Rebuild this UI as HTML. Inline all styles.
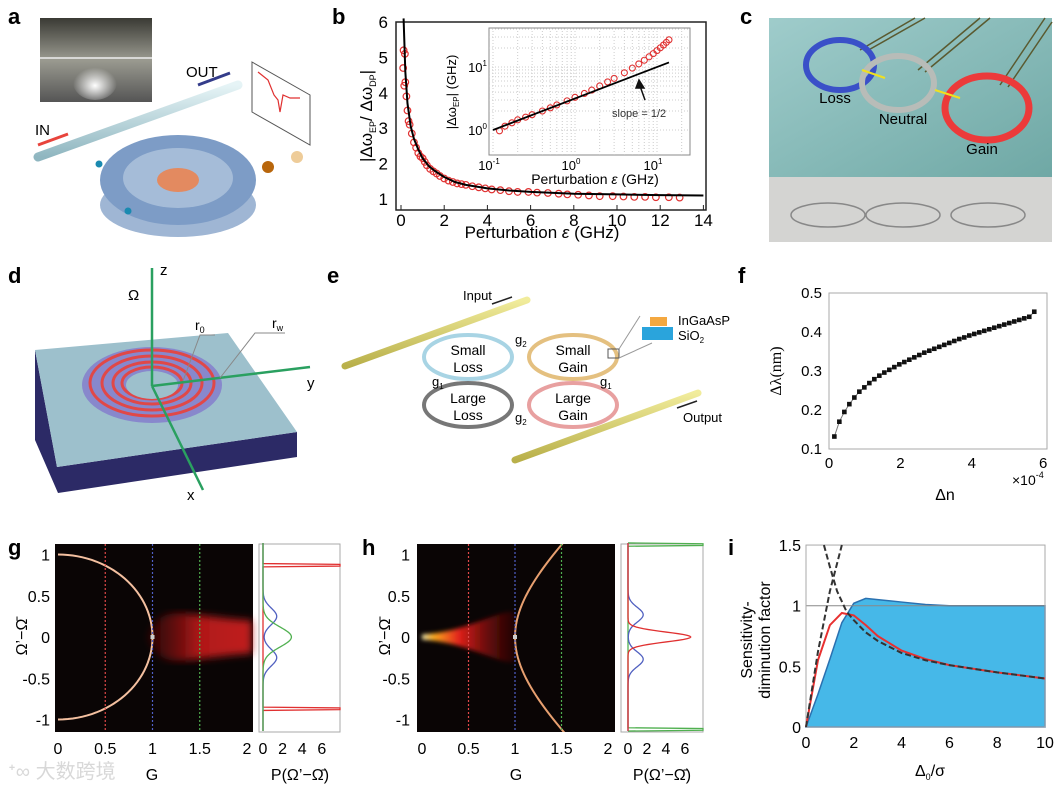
<!DOCTYPE html>
<html><head><meta charset="utf-8">
<style>
html,body{margin:0;padding:0;background:#fff;}
svg{display:block;font-family:"Liberation Sans","Noto Sans CJK SC",sans-serif;}
.pl{font-weight:bold;font-size:22px;fill:#000;}
.tk{font-size:15px;fill:#111;}
</style></head>
<body>
<svg id="fig" width="1064" height="785" viewBox="0 0 1064 785" xmlns="http://www.w3.org/2000/svg">
<defs>
<linearGradient id="rodg" x1="0" y1="0" x2="0" y2="1"><stop offset="0" stop-color="#e6f4f6"/><stop offset="1" stop-color="#8fb6c0"/></linearGradient>
<linearGradient id="yrod" x1="0" y1="0" x2="0" y2="1"><stop offset="0" stop-color="#f1ec9c"/><stop offset="1" stop-color="#b9b04a"/></linearGradient>
<linearGradient id="photo" x1="0" y1="0" x2="0" y2="1"><stop offset="0" stop-color="#3a3a34"/><stop offset="0.5" stop-color="#9a9a90"/><stop offset="1" stop-color="#555"/></linearGradient>
<radialGradient id="glowA" cx="0.5" cy="0.6" r="0.5"><stop offset="0" stop-color="#fff"/><stop offset="1" stop-color="#fff" stop-opacity="0"/></radialGradient>
<linearGradient id="teal" x1="0" y1="0" x2="1" y2="1"><stop offset="0" stop-color="#9fcccb"/><stop offset="1" stop-color="#6fa8a5"/></linearGradient>
<filter id="blur4"><feGaussianBlur stdDeviation="4"/></filter>
<filter id="blur2"><feGaussianBlur stdDeviation="2"/></filter>
<linearGradient id="hglow" x1="0" y1="0" x2="1" y2="0"><stop offset="0" stop-color="#fff8c0"/><stop offset="0.12" stop-color="#ffb020"/><stop offset="0.4" stop-color="#e0201a"/><stop offset="1" stop-color="#5a0606" stop-opacity="0.3"/></linearGradient>
<linearGradient id="gglow" x1="0" y1="0" x2="1" y2="0"><stop offset="0" stop-color="#5a0808" stop-opacity="0.4"/><stop offset="0.5" stop-color="#b01818"/><stop offset="1" stop-color="#c02020"/></linearGradient>
</defs>

<!-- Panel a -->
<g>
<text class="pl" x="8" y="24">a</text>
<rect x="40" y="18" width="112" height="84" fill="url(#photo)"/>
<ellipse cx="95" cy="82" rx="22" ry="18" fill="url(#glowA)"/>
<line x1="40" y1="58" x2="152" y2="58" stroke="#eee" stroke-width="1.5"/>
<ellipse cx="178" cy="205" rx="78" ry="32" fill="#9fb6d4"/>
<ellipse cx="178" cy="180" rx="78" ry="45" fill="#7d9cc6"/>
<ellipse cx="178" cy="178" rx="55" ry="30" fill="#a5bcd8"/>
<ellipse cx="178" cy="180" rx="21" ry="12" fill="#e38a60"/>
<line x1="38" y1="157" x2="238" y2="85" stroke="url(#rodg)" stroke-width="9" stroke-linecap="round"/>
<line x1="38" y1="145" x2="68" y2="134" stroke="#e8443c" stroke-width="3"/>
<text x="35" y="135" font-size="15">IN</text>
<line x1="198" y1="85" x2="230" y2="73" stroke="#343c8a" stroke-width="3"/>
<text x="186" y="77" font-size="15">OUT</text>
<polygon points="252,62 310,95 310,145 252,112" fill="#fff" stroke="#555"/>
<polyline points="258,72 268,80 274,95 278,100 280,112 283,95 290,98 300,98" fill="none" stroke="#e03030" stroke-width="1.2"/>
<circle cx="268" cy="167" r="6" fill="#b8660c"/>
<circle cx="297" cy="157" r="6" fill="#eecc99"/>
<circle cx="99" cy="164" r="3.5" fill="#1a8ab0"/>
<circle cx="128" cy="211" r="3.5" fill="#1a8ab0"/>
</g>

<!-- Panel b -->
<g id="pb">
<text class="pl" x="332" y="24">b</text>
<rect x="396" y="22" width="310" height="188" fill="none" stroke="#222" stroke-width="1.5"/>
<text x="542" y="238" font-size="17" text-anchor="middle">Perturbation <tspan font-style="italic">ε</tspan> (GHz)</text>
<text transform="translate(372,116) rotate(-90)" font-size="17" text-anchor="middle">|Δω<tspan font-size="9" dy="4">EP</tspan><tspan dy="-4">/ Δω</tspan><tspan font-size="9" dy="4">DP</tspan><tspan dy="-4">|</tspan></text>
</g>

<!-- Panel c -->
<g>
<text class="pl" x="740" y="24">c</text>
<rect x="769" y="18" width="283" height="159" fill="url(#teal)"/>
<rect x="769" y="177" width="283" height="65" fill="#d4d4d2"/>
<g stroke="#5a5a30" stroke-width="1.5">
<line x1="860" y1="50" x2="915" y2="18"/><line x1="865" y1="52" x2="925" y2="18"/>
<line x1="918" y1="70" x2="980" y2="18"/><line x1="925" y1="72" x2="990" y2="18"/>
<line x1="1000" y1="85" x2="1045" y2="18"/><line x1="1008" y1="87" x2="1052" y2="22"/>
</g>
<ellipse cx="840" cy="65" rx="34" ry="25" fill="none" stroke="#3a50c8" stroke-width="6"/>
<ellipse cx="898" cy="83" rx="36" ry="27" fill="none" stroke="#b8bcb8" stroke-width="6"/>
<ellipse cx="987" cy="108" rx="42" ry="32" fill="none" stroke="#ec3a3a" stroke-width="7"/>
<path d="M862 70 L885 78 M935 90 L960 98" stroke="#f0e020" stroke-width="2"/>
<text x="835" y="103" font-size="15" text-anchor="middle">Loss</text>
<text x="903" y="124" font-size="15" text-anchor="middle">Neutral</text>
<text x="982" y="154" font-size="15" text-anchor="middle">Gain</text>
<g fill="none" stroke="#888" stroke-width="1.5">
<ellipse cx="828" cy="215" rx="37" ry="12"/><ellipse cx="903" cy="215" rx="37" ry="12"/><ellipse cx="988" cy="215" rx="37" ry="12"/>
</g>
</g>

<!-- Panel d -->
<g>
<text class="pl" x="8" y="283">d</text>
<polygon points="35,350 35,440 58,493 297,457 297,432 57,467" fill="#2c2a66"/>
<polygon points="35,350 228,333 297,432 57,467" fill="#9dc0cc"/>
<ellipse cx="152" cy="385" rx="70" ry="38" fill="#8888cc"/>
<g fill="none" stroke="#e04848" stroke-width="3">
<ellipse cx="152" cy="383" rx="62" ry="33"/><ellipse cx="152" cy="383" rx="50" ry="27"/><ellipse cx="152" cy="383" rx="39" ry="21"/><ellipse cx="152" cy="383" rx="30" ry="16"/>
</g>
<ellipse cx="152" cy="385" rx="26" ry="14" fill="#9dc0cc"/>
<g stroke="#2aa060" stroke-width="2.5">
<line x1="152" y1="386" x2="152" y2="268"/><line x1="152" y1="386" x2="310" y2="367"/><line x1="152" y1="386" x2="203" y2="490"/>
</g>
<text x="160" y="275" font-size="15">z</text>
<text x="307" y="388" font-size="15">y</text>
<text x="187" y="500" font-size="15">x</text>
<text x="128" y="300" font-size="15">Ω</text>
<text x="195" y="330" font-size="14">r<tspan font-size="9" dy="3">0</tspan></text>
<text x="272" y="328" font-size="14">r<tspan font-size="9" dy="3">w</tspan></text>
<path d="M183 381 L200 335 L215 335 M220 378 L255 333 L285 333" fill="none" stroke="#888"/>
</g>

<!-- Panel e -->
<g>
<text class="pl" x="327" y="283">e</text>
<line x1="345" y1="366" x2="527" y2="300" stroke="url(#yrod)" stroke-width="7" stroke-linecap="round"/>
<line x1="515" y1="460" x2="698" y2="393" stroke="url(#yrod)" stroke-width="7" stroke-linecap="round"/>
<ellipse cx="468" cy="357" rx="44" ry="22" fill="none" stroke="#a8d4e4" stroke-width="4"/>
<ellipse cx="573" cy="357" rx="44" ry="22" fill="none" stroke="#e4c080" stroke-width="4"/>
<ellipse cx="468" cy="405" rx="44" ry="22" fill="none" stroke="#777" stroke-width="4"/>
<ellipse cx="573" cy="405" rx="44" ry="22" fill="none" stroke="#e8a0a0" stroke-width="4"/>
<g font-size="14" text-anchor="middle">
<text x="468" y="355">Small</text><text x="468" y="372">Loss</text>
<text x="573" y="355">Small</text><text x="573" y="372">Gain</text>
<text x="468" y="403">Large</text><text x="468" y="420">Loss</text>
<text x="573" y="403">Large</text><text x="573" y="420">Gain</text>
</g>
<g font-size="13">
<text x="515" y="344">g<tspan font-size="8" dy="3">2</tspan></text>
<text x="432" y="386">g<tspan font-size="8" dy="3">1</tspan></text>
<text x="600" y="386">g<tspan font-size="8" dy="3">1</tspan></text>
<text x="515" y="422">g<tspan font-size="8" dy="3">2</tspan></text>
</g>
<text x="463" y="300" font-size="13">Input</text>
<line x1="512" y1="297" x2="492" y2="304" stroke="#222" stroke-width="1.5"/>
<text x="683" y="422" font-size="13">Output</text>
<line x1="677" y1="408" x2="697" y2="401" stroke="#222" stroke-width="1.5"/>
<rect x="608" y="349" width="11" height="9" fill="none" stroke="#555"/>
<path d="M619 349 L640 316 M619 358 L652 343" stroke="#999" fill="none"/>
<rect x="650" y="317" width="17" height="9" fill="#f4a840"/>
<rect x="642" y="327" width="31" height="13" fill="#2aa4dc"/>
<text x="678" y="325" font-size="13">InGaAsP</text>
<text x="678" y="340" font-size="13">SiO<tspan font-size="8" dy="3">2</tspan></text>
</g>

<!-- Panel f -->
<g id="pf">
<text class="pl" x="738" y="283">f</text>
<rect x="829" y="293" width="218" height="156" fill="none" stroke="#aaa"/>
<text x="945" y="500" font-size="16" text-anchor="middle">Δn</text>
<text x="1012" y="485" font-size="14">×10<tspan font-size="9" dy="-7">-4</tspan></text>
<text transform="translate(781,371) rotate(-90)" font-size="16" text-anchor="middle" font-family="Liberation Serif,serif">Δλ(nm)</text>
</g>

<!-- Panel g -->
<g id="pg">
<text class="pl" x="8" y="555">g</text>
<rect x="55" y="544" width="198" height="188" fill="#0a0505"/>
<rect x="259" y="544" width="81" height="188" fill="#fff" stroke="#aaa"/>
<text x="152" y="780" font-size="16" text-anchor="middle">G</text>
<text x="300" y="780" font-size="16" text-anchor="middle">P(Ω’−Ω̄)</text>
<text transform="translate(27,637) rotate(-90)" font-size="16" text-anchor="middle">Ω’−Ω̄</text>
<text x="8" y="778" font-size="20" fill="#d8d8d8">ᐩ∞ 大数跨境</text>
</g>

<!-- Panel h -->
<g id="ph">
<text class="pl" x="362" y="555">h</text>
<rect x="417" y="544" width="198" height="188" fill="#0a0505"/>
<rect x="621" y="544" width="82" height="188" fill="#fff" stroke="#aaa"/>
<text x="516" y="780" font-size="16" text-anchor="middle">G</text>
<text x="662" y="780" font-size="16" text-anchor="middle">P(Ω’−Ω̄)</text>
<text transform="translate(390,637) rotate(-90)" font-size="16" text-anchor="middle">Ω’−Ω̄</text>
</g>

<!-- Panel i -->
<g id="pi">
<text class="pl" x="728" y="555">i</text>
<text x="930" y="776" font-size="16" text-anchor="middle">Δ<tspan font-size="9" dy="4">0</tspan><tspan dy="-4">/σ</tspan></text>
<text transform="translate(752,640) rotate(-90)" font-size="16" text-anchor="middle">Sensitivity-</text>
<text transform="translate(770,640) rotate(-90)" font-size="16" text-anchor="middle">diminution factor</text>
</g>
</svg>
<script>
const NS='http://www.w3.org/2000/svg';
function mk(parent,tag,attrs,txt){const e=document.createElementNS(NS,tag);for(const k in attrs)e.setAttribute(k,attrs[k]);if(txt!==undefined)e.textContent=txt;parent.appendChild(e);return e;}

// ---- Panel b data ----
const bFitX=[0.12,0.2,0.3,0.45,0.6,0.8,1,1.3,1.6,2,2.5,3,4,5,6,8,10,12,14];
const bFitY=[6.1,4.6,3.7,3.05,2.7,2.4,2.15,1.92,1.78,1.62,1.48,1.4,1.3,1.24,1.2,1.15,1.13,1.11,1.1];
const bDataX=[0.1,0.12,0.15,0.18,0.2,0.25,0.3,0.35,0.4,0.5,0.6,0.7,0.8,0.9,1.0,1.1,1.2,1.35,1.5,1.65,1.8,2.0,2.2,2.4,2.6,2.8,3.0,3.3,3.6,3.9,4.2,4.6,5.0,5.4,5.9,6.3,6.8,7.3,7.7,8.2,8.7,9.2,9.8,10.3,10.8,11.3,11.8,12.4,12.9];
const bDataY=[4.7,5.2,4.2,5.1,4.3,3.9,3.5,3.2,3.1,2.85,2.6,2.45,2.3,2.2,2.15,2.05,1.95,1.85,1.78,1.72,1.65,1.58,1.52,1.48,1.44,1.42,1.4,1.36,1.33,1.3,1.27,1.25,1.22,1.2,1.2,1.18,1.17,1.15,1.13,1.12,1.1,1.08,1.08,1.07,1.06,1.06,1.05,1.05,1.04];
const bXTicks=[0,2,4,6,8,10,12,14];
const bYTicks=[1,2,3,4,5,6];
const insX=[0.12,0.14,0.17,0.2,0.25,0.3,0.4,0.5,0.6,0.8,1,1.3,1.6,2,2.5,3,4,5,6,7,8,9,10,11,12,13,14];
const insY=[0.97,1.15,1.3,1.45,1.6,1.75,2.0,2.25,2.5,2.9,3.3,3.8,4.3,5.0,5.8,6.6,8.1,9.6,11.2,12.8,14.5,16.3,18.2,20.2,22.3,24.6,27];
const insFitX=[0.1,14];
const insXTicks=[0.1,1,10];
const insXLabels=['10','10','10'];
const insXExp=['-1','0','1'];
const insYTicks=[1,10];
const insYExp=['0','1'];
(function(){
 const g=document.getElementById('pb');
 const bx=v=>401+v*21.6, by=v=>199-(v-1)*35.4;
 const ix=e=>575+Math.log10(e)*82, iy=v=>130-Math.log10(v)*63;
 bXTicks.forEach(v=>{
  const t=mk(g,'text',{x:bx(v),y:226,'font-size':17,'text-anchor':'middle'},String(v));
  
  
  const l=mk(g,'line',{x1:bx(v),y1:210,x2:bx(v),y2:205,stroke:'#222'});
  
  
 });
 bYTicks.forEach(v=>{
  const t=mk(g,'text',{x:388,y:by(v)+6,'font-size':17,'text-anchor':'end'},String(v));
  
  
 });
 bDataX.forEach((x,i)=>{
  const c=mk(g,'circle',{cx:bx(x),cy:by(bDataY[i]),r:3.3,fill:'none',stroke:'#e03030','stroke-width':1.2});
  
  
 });
 const fit=mk(g,'polyline',{points:bFitX.map((x,i)=>bx(x)+','+by(Math.min(bFitY[i],6.1))).join(' '),fill:'none',stroke:'#000','stroke-width':2});
 
 
 const ins=mk(g,'g',{});
 
 
 const bg=mk(ins,'rect',{x:489,y:28,width:201,height:127,fill:'#fff',stroke:'#888'});
 
 
 [0.1,1,10].forEach(d=>{for(let k=1;k<10;k++){const x=ix(d*k);if(x>690)break;
  const gl=mk(ins,'line',{x1:x,y1:28,x2:x,y2:155,stroke:'#ccc','stroke-dasharray':'1,2'});
  
  }});
 [1,10].forEach(d=>{for(let k=1;k<10;k++){const y=iy(d*k);if(y<28)break;
  const gl=mk(ins,'line',{x1:489,y1:y,x2:690,y2:y,stroke:'#ccc','stroke-dasharray':'1,2'});
  
  }});
 insXTicks.forEach((v,i)=>{
  const t=mk(ins,'text',{x:ix(v)-4,y:170,'font-size':13,'text-anchor':'middle'});
  t.innerHTML=insXLabels[i]+'<tspan font-size="8" dy="-6">'+insXExp[i]+'</tspan>';
  
  
 });
 insYTicks.forEach((v,i)=>{
  const t=mk(ins,'text',{x:487,y:iy(v)+5,'font-size':13,'text-anchor':'end'});
  t.innerHTML='10<tspan font-size="8" dy="-6">'+insYExp[i]+'</tspan>';
  
  
 });
 const yt=mk(ins,'text',{transform:'translate(456,92) rotate(-90)','font-size':13,'text-anchor':'middle'});
 yt.innerHTML='|Δω<tspan font-size="8" dy="3">EP</tspan><tspan dy="-3">| (GHz)</tspan>';
 
 
 const xt=mk(ins,'text',{x:595,y:184,'font-size':14,'text-anchor':'middle'});
 xt.innerHTML='Perturbation <tspan font-style="italic">ε</tspan> (GHz)';
 
 
 insX.forEach((x,i)=>{
  const c=mk(ins,'circle',{cx:ix(x),cy:iy(insY[i]),r:3,fill:'none',stroke:'#e03030','stroke-width':1.1});
  
  
 });
 const ln=mk(ins,'line',{x1:ix(insFitX[0]),y1:iy(3.16*Math.sqrt(insFitX[0])),x2:ix(insFitX[1]),y2:iy(3.16*Math.sqrt(insFitX[1])),stroke:'#000','stroke-width':1.8});
 
 
 const sl=mk(ins,'text',{x:612,y:117,'font-size':11,fill:'#333'},'slope = 1/2');
 
 
 const ar=mk(ins,'path',{d:'M645 100 L640 86 M636 88 L639 80 L644 88Z',stroke:'#111','stroke-width':1.5,fill:'#111'});
 
 
})();

// ---- Panel f data ----
const fX=[0.15,0.29,0.43,0.57,0.71,0.85,0.99,1.13,1.27,1.41,1.55,1.69,1.83,1.97,2.11,2.25,2.39,2.53,2.67,2.81,2.95,3.09,3.23,3.37,3.51,3.65,3.79,3.93,4.07,4.21,4.35,4.49,4.63,4.77,4.91,5.05,5.19,5.33,5.47,5.61,5.75];
const fY=[0.132,0.17,0.195,0.215,0.232,0.247,0.258,0.269,0.279,0.288,0.296,0.303,0.31,0.317,0.323,0.329,0.335,0.341,0.347,0.352,0.357,0.362,0.367,0.372,0.377,0.382,0.386,0.391,0.395,0.399,0.403,0.407,0.411,0.415,0.419,0.423,0.427,0.431,0.435,0.439,0.452];
const fXTicks=[0,2,4,6];
const fYTicks=[0.1,0.2,0.3,0.4,0.5];
(function(){
 const g=document.getElementById('pf');
 const fx=v=>829+v*35.7, fy=v=>449-(v-0.1)*390;
 fXTicks.forEach(v=>{const t=mk(g,'text',{x:fx(v),y:468,'font-size':15,'text-anchor':'middle'},String(v));
  
  });
 fYTicks.forEach(v=>{const t=mk(g,'text',{x:822,y:fy(v)+5,'font-size':15,'text-anchor':'end'},v.toFixed(1));
  
  });
 const pl=mk(g,'polyline',{points:fX.map((x,i)=>fx(x)+','+fy(fY[i])).join(' '),fill:'none',stroke:'#777','stroke-width':1});
 
 
 fX.forEach((x,i)=>{const r=mk(g,'rect',{x:fx(x)-2.3,y:fy(fY[i])-2.3,width:4.6,height:4.6,fill:'#111'});
  
  });
})();

// ---- Panels g,h data ----
const gYTicks=[1,0.5,0,-0.5,-1];
const gYLabels=['1','0.5','0','-0.5','-1'];
const gXTicks=[0,0.5,1,1.5,2];
const gXLabels=['0','0.5','1','1.5','2'];
const pTicks=[0,2,4,6];
const cutG=[0.5,1,1.5];
const cutColors=['#e04848','#5060c8','#50b050'];
const gBlueAmp=[1.4], gBlueMu=[0.25], gBlueSig=[0.1];
const gGreenAmp=[2.9], gGreenSig=[0.12];
const gRedSpike=[0.87];
const hRedAmp=[6.6], hRedSig=[0.06];
const hBlueAmp=[1.6], hBlueMu=[0.27], hBlueSig=[0.09];
const hGreenSpike=[1.12];
function heatPanel(id,x0,sx,px0,psx,pFrame,labelX,isG){
 const g=document.getElementById(id);
 const X=v=>x0+v*sx, Y=o=>637-o*82.5, PX=p=>px0+p*psx;
 const clip=mk(g,'clipPath',{id:id+'clip'});
 mk(clip,'rect',{x:pFrame[0],y:544,width:pFrame[1]-pFrame[0],height:188});
 const hg=mk(g,'g',{'clip-path':'url(#'+id+'clip)'});
 
 
 if(isG){
  const glow=mk(hg,'path',{d:`M${X(0.95)} ${Y(0)} C${X(1.1)} ${Y(0.45)},${X(1.3)} ${Y(0.25)},${X(2.05)} ${Y(0.2)} L${X(2.05)} ${Y(-0.2)} C${X(1.3)} ${Y(-0.25)},${X(1.1)} ${Y(-0.45)},${X(0.95)} ${Y(0)}Z`,fill:'url(#gglow)',filter:'url(#blur4)'});
  
  
  let d='';for(let a=-90;a<=90;a+=3){const r=a*Math.PI/180;d+=(a==-90?'M':'L')+X(Math.cos(r))+' '+Y(Math.sin(r));}
  const arc=mk(hg,'path',{d:d,fill:'none',stroke:'#f4c0a0','stroke-width':2});
  
  
 } else {
  const glow=mk(hg,'path',{d:`M${X(0)} ${Y(0.03)} C${X(0.5)} ${Y(0.06)},${X(0.85)} ${Y(0.35)},${X(1.0)} ${Y(0.3)} L${X(1.0)} ${Y(-0.3)} C${X(0.85)} ${Y(-0.35)},${X(0.5)} ${Y(-0.06)},${X(0)} ${Y(-0.03)}Z`,fill:'url(#hglow)',filter:'url(#blur2)'});
  
  
  let d='';for(let o=-1.2;o<=1.201;o+=0.05){d+=(d?'L':'M')+X(Math.sqrt(1+o*o))+' '+Y(o);}
  const hy=mk(hg,'path',{d:d,fill:'none',stroke:'#e8a070','stroke-width':2});
  
  
 }
 cutG.forEach((v,i)=>{const l=mk(hg,'line',{x1:X(v),y1:544,x2:X(v),y2:732,stroke:cutColors[i],'stroke-width':1.2,'stroke-dasharray':'2,2'});
  
  });
 const ep=mk(hg,'rect',{x:X(1)-2,y:Y(0)-2,width:4,height:4,fill:'#ccc'});
 
 
 gYTicks.forEach((v,i)=>{const t=mk(g,'text',{x:labelX,y:Y(v)+6,'font-size':16,'text-anchor':'end'},gYLabels[i]);
  
  });
 gXTicks.forEach((v,i)=>{const t=mk(g,'text',{x:X(v),y:754,'font-size':16,'text-anchor':'middle'},gXLabels[i]);
  
  });
 pTicks.forEach(v=>{const t=mk(g,'text',{x:PX(v),y:754,'font-size':16,'text-anchor':'middle'},String(v));
  
  });
 function curve(f,color,name){let d='';for(let o=-1.14;o<=1.141;o+=0.01){d+=(d?'L':'M')+Math.min(PX(f(o)),pFrame[1])+' '+Y(o);}
  const p=mk(g,'path',{d:d,fill:'none',stroke:color,'stroke-width':1.3});
  
  }
 const gs=(o,a,m,s)=>a*Math.exp(-((o-m)**2)/(2*s*s));
 const spike=(o,m)=>(Math.abs(Math.abs(o)-m)<0.012?30:0);
 if(isG){
  curve(o=>spike(o,gRedSpike[0]),'#e03030','g-p-red');
  curve(o=>gs(o,gBlueAmp[0],gBlueMu[0],gBlueSig[0])+gs(o,gBlueAmp[0],-gBlueMu[0],gBlueSig[0]),'#5060c0','g-p-blue');
  curve(o=>gs(o,gGreenAmp[0],0,gGreenSig[0]),'#50b050','g-p-green');
 } else {
  curve(o=>spike(o,hGreenSpike[0]),'#50b050','h-p-green');
  curve(o=>gs(o,hBlueAmp[0],hBlueMu[0],hBlueSig[0])+gs(o,hBlueAmp[0],-hBlueMu[0],hBlueSig[0]),'#5060c0','h-p-blue');
  curve(o=>gs(o,hRedAmp[0],0,hRedSig[0]),'#e03030','h-p-red');
 }
}
heatPanel('pg',58,94.5,263,9.8,[55,340],50,true);
heatPanel('ph',422,93,628,9.5,[417,703],410,false);

// ---- Panel i data ----
const iX=[0,0.5,1,1.5,2,2.5,3,4,5,6,8,10];
const iBlue=[0,0.27,0.56,0.86,1.02,1.06,1.05,1.03,1.01,1.0,1.0,1.0];
const iRed=[0,0.55,0.84,0.94,0.92,0.84,0.75,0.63,0.56,0.51,0.45,0.4];
const iDashUpX=[0,0.5,1,1.5];
const iDashUpY=[0,0.62,1.12,1.5];
const iDashDnX=[0.75,1,1.3,1.7,2,2.5,3,4,5,6,8,10];
const iDashDnY=[1.5,1.32,1.12,0.95,0.88,0.78,0.71,0.61,0.55,0.51,0.45,0.4];
const iXTicks=[0,2,4,6,8,10];
const iYTicks=[0,0.5,1,1.5];
(function(){
 const g=document.getElementById('pi');
 const X=v=>806+v*23.9, Y=v=>727-v*121.3;
 const area=mk(g,'path',{d:'M'+X(0)+' '+Y(0)+iX.map((x,i)=>' L'+X(x)+' '+Y(iBlue[i])).join('')+' L'+X(10)+' '+Y(0)+'Z',fill:'#46b8e8',stroke:'#2a70b0','stroke-width':1.5});
 
 
 const h=mk(g,'line',{x1:X(0),y1:Y(1),x2:X(10),y2:Y(1),stroke:'#888','stroke-width':1});
 
 
 const fr=mk(g,'rect',{x:X(0),y:Y(1.5),width:X(10)-X(0),height:Y(0)-Y(1.5),fill:'none',stroke:'#aaa'});
 
 
 const red=mk(g,'polyline',{points:iX.map((x,i)=>X(x)+','+Y(iRed[i])).join(' '),fill:'none',stroke:'#e83030','stroke-width':2});
 
 
 const d1=mk(g,'polyline',{points:iDashUpX.map((x,i)=>X(x)+','+Y(iDashUpY[i])).join(' '),fill:'none',stroke:'#333','stroke-width':2,'stroke-dasharray':'6,3'});
 
 
 const d2=mk(g,'polyline',{points:iDashDnX.map((x,i)=>X(x)+','+Y(iDashDnY[i])).join(' '),fill:'none',stroke:'#333','stroke-width':2,'stroke-dasharray':'6,3'});
 
 
 iXTicks.forEach(v=>{const t=mk(g,'text',{x:X(v),y:748,'font-size':16,'text-anchor':'middle'},String(v));
  
  });
 iYTicks.forEach(v=>{const t=mk(g,'text',{x:801,y:Y(v)+6,'font-size':16,'text-anchor':'end'},String(v));
  
  });
})();
</script>
</body></html>
